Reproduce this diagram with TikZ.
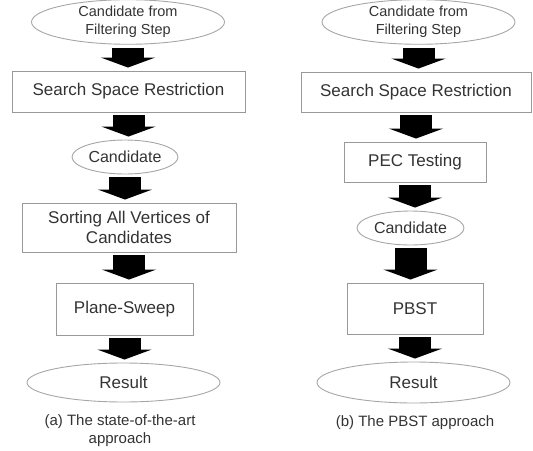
\documentclass[tikz,border=0pt]{standalone}
\usepackage{fontspec}
\setmainfont{Liberation Sans}
\usetikzlibrary{shapes.geometric,arrows.meta}

\begin{document}
\begin{tikzpicture}[x=1pt,y=-1pt,
    box/.style={draw=black!40,line width=0.9pt,rectangle,inner sep=0pt,
      align=center,text=black!80,font=\fontsize{17}{20}\selectfont},
    oval/.style={draw=black!35,line width=0.9pt,ellipse,inner sep=0pt,
      align=center,text=black!80,font=\fontsize{16}{18}\selectfont},
    fatarrow/.style={line width=32pt,black,shorten <=3pt,shorten >=3pt,
      -{Triangle[width=54pt,length=10pt]}},
    caption/.style={align=center,text=black!80,font=\fontsize{15}{18}\selectfont}]
      \useasboundingbox (0,0) rectangle (533,450);

      % 左侧 (a)
      \node[oval,minimum width=193pt,minimum height=39pt,
        font=\fontsize{14.5}{18}\selectfont] (topA) at (128,22)
        {Candidate from\\Filtering Step};
      \node[box,minimum width=233pt,minimum height=41pt] (ssrA) at (128.5,91.5)
        {Search Space Restriction};
      \node[oval,minimum width=106pt,minimum height=34pt] (candA) at (125,157)
        {Candidate};
      \node[box,minimum width=214pt,minimum height=49pt] (sortA) at (129,227.5)
        {Sorting All Vertices of\\Candidates};
      \node[box,minimum width=137pt,minimum height=52pt] (psA) at (124.5,309)
        {Plane-Sweep};
      \node[oval,minimum width=193pt,minimum height=39pt,
        font=\fontsize{17}{20}\selectfont] (resA) at (123.5,382.5) {Result};
      \node[caption] (capA) at (120,431) {(a) The state-of-the-art\\approach};

      \draw[fatarrow] (topA.south) -- (topA.south |- ssrA.north);
      \draw[fatarrow] (ssrA.south) -- (ssrA.south |- candA.north);
      \draw[fatarrow] (candA.south) -- (candA.south |- sortA.north);
      \draw[fatarrow] (sortA.south) -- (sortA.south |- psA.north);
      \draw[fatarrow] (psA.south) -- (psA.south |- resA.north);

      % 右侧 (b)
      \node[oval,minimum width=193pt,minimum height=39pt,
        font=\fontsize{14.5}{18}\selectfont] (topB) at (418.5,22)
        {Candidate from\\Filtering Step};
      \node[box,minimum width=230pt,minimum height=40pt] (ssrB) at (416,92)
        {Search Space Restriction};
      \node[box,minimum width=142pt,minimum height=40pt] (pecB) at (415,162)
        {PEC Testing};
      \node[oval,minimum width=107pt,minimum height=34pt] (candB) at (410.5,228)
        {Candidate};
      \node[box,minimum width=136pt,minimum height=51pt] (pbstB) at (415,308.5)
        {PBST};
      \node[oval,minimum width=193pt,minimum height=41pt,
        font=\fontsize{17}{20}\selectfont] (resB) at (413.5,382.5) {Result};
      \node[caption] (capB) at (415,423) {(b) The PBST approach};

      \draw[fatarrow] (topB.south) -- (topB.south |- ssrB.north);
      \draw[fatarrow] (ssrB.south) -- (ssrB.south |- pecB.north);
      \draw[fatarrow] (pecB.south) -- (pecB.south |- candB.north);
      \draw[fatarrow] (candB.south) -- (candB.south |- pbstB.north);
      \draw[fatarrow] (pbstB.south) -- (pbstB.south |- resB.north);
    \end{tikzpicture}
\end{document}
